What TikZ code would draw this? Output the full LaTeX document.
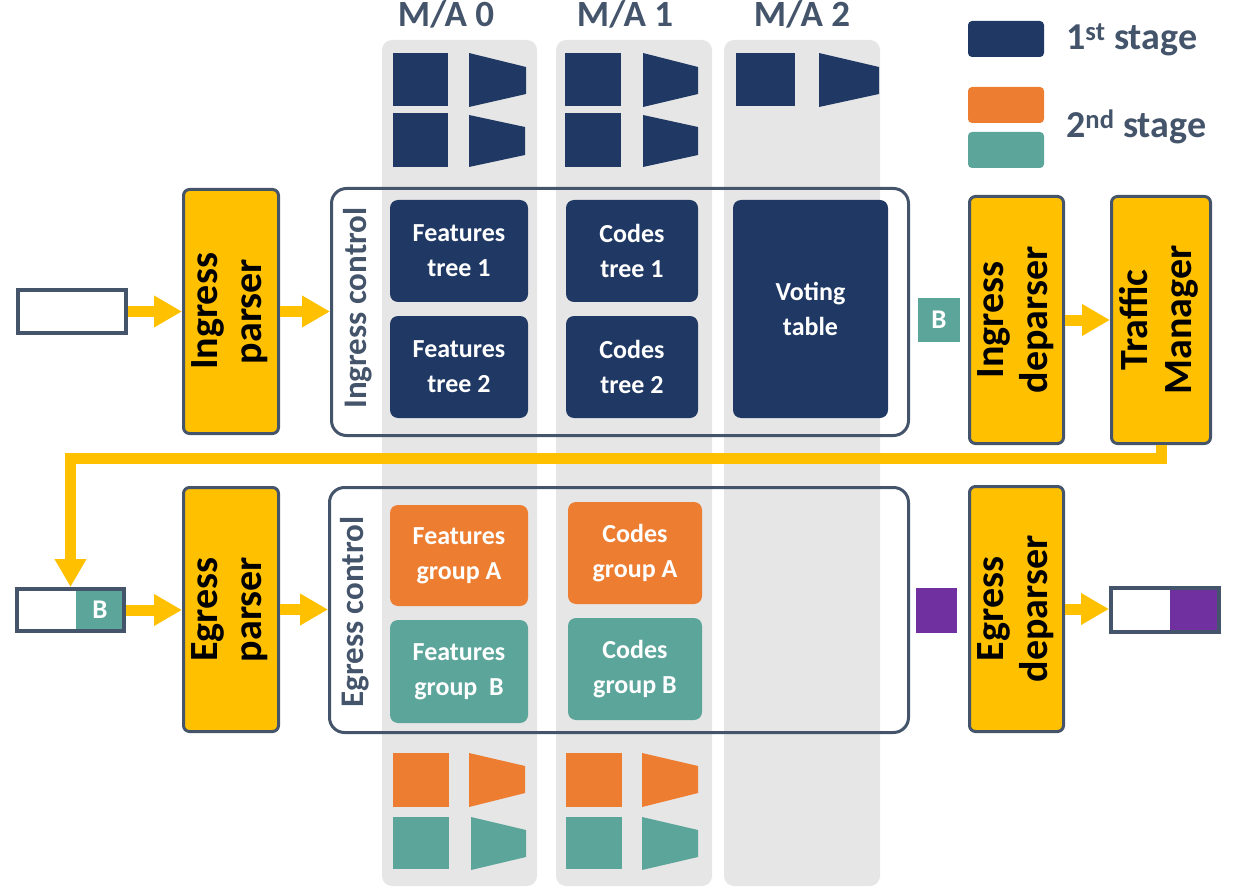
\documentclass[tikz,border=0pt]{standalone}
\usepackage{fontspec}
\usepackage{graphicx}
\setmainfont{Carlito}
\usetikzlibrary{arrows.meta,calc}
\definecolor{navy}{HTML}{1F3864}
\definecolor{orng}{HTML}{ED7D31}
\definecolor{tealc}{HTML}{5BA59B}
\definecolor{yel}{HTML}{FFC000}
\definecolor{colg}{HTML}{E7E6E6}
\definecolor{slate}{HTML}{44546A}
\definecolor{purp}{HTML}{7030A0}
\newcommand{\vtxt}[1]{\rotatebox{90}{\begin{tabular}{@{}c@{}}#1\end{tabular}}}
\begin{document}
\begin{tikzpicture}[x=1pt,y=-1pt,
  yelbox/.style={draw=slate, line width=3pt, fill=yel, rounded corners=6pt, inner sep=0pt, text=black,
    font=\fontsize{40}{44}\selectfont\bfseries},
  ctrlbox/.style={draw=slate, line width=3pt, rounded corners=15pt, inner sep=0pt},
  tbl/.style={rounded corners=8pt, inner sep=0pt, text=white, align=center,
    font=\fontsize{26}{35}\selectfont\bfseries},
  pkt/.style={draw=slate, line width=4pt, inner sep=0pt},
  tag/.style={inner sep=0pt, text=white, font=\fontsize{27}{30}\selectfont\bfseries},
  yarrow/.style={draw=yel, line width=11pt, -{Triangle[length=28pt,width=30pt]}},
  malbl/.style={anchor=base, inner sep=0pt, text=slate, font=\fontsize{37}{40}\selectfont\bfseries},
  legtxt/.style={anchor=base west, inner sep=0pt, text=slate, font=\fontsize{38}{40}\selectfont\bfseries},
  ctltxt/.style={rotate=90, inner sep=0pt, text=slate, font=\fontsize{33}{36}\selectfont\bfseries}
]
\useasboundingbox (0,0) rectangle (1235,896);
% columns
\fill[colg, rounded corners=10pt] (382,40) rectangle (537,886);
\fill[colg, rounded corners=10pt] (556,40) rectangle (712,886);
\fill[colg, rounded corners=10pt] (724,40) rectangle (880,886);
% top icons
\fill[navy] (393,53) rectangle (448,106);
\fill[navy] (393,113) rectangle (448,167);
\fill[navy] (469,53) -- (526,67) -- (526,94) -- (469,107) -- cycle;
\fill[navy] (469,115) -- (525,127) -- (525,155) -- (469,167) -- cycle;
\fill[navy] (565,53) rectangle (621,106);
\fill[navy] (565,113) rectangle (621,167);
\fill[navy] (643,53) -- (698,67) -- (698,94) -- (643,107) -- cycle;
\fill[navy] (643,115) -- (698,127) -- (698,155) -- (643,167) -- cycle;
\fill[navy] (736,53) rectangle (795,106);
\fill[navy] (819,53) -- (879,67) -- (879,94) -- (819,107) -- cycle;
% bottom icons
\fill[orng] (393,753) rectangle (449,807);
\fill[tealc] (393,817) rectangle (449,869);
\fill[orng] (469,753) -- (525,766) -- (525,793) -- (469,807) -- cycle;
\fill[tealc] (471,817) -- (526,830) -- (526,857) -- (471,870) -- cycle;
\fill[orng] (566,753) rectangle (622,807);
\fill[tealc] (566,817) rectangle (622,869);
\fill[orng] (642,753) -- (698,766) -- (698,793) -- (642,807) -- cycle;
\fill[tealc] (642,817) -- (698,830) -- (698,857) -- (642,870) -- cycle;
% M/A labels
\node[malbl] (ma0) at (446,27) {M/A 0};
\node[malbl] (ma1) at (625,27) {M/A 1};
\node[malbl] (ma2) at (802,27) {M/A 2};
% legend
\fill[navy, rounded corners=4pt] (968,21) rectangle (1044,57);
\fill[orng, rounded corners=4pt] (968,87) rectangle (1044,123);
\fill[tealc, rounded corners=4pt] (968,132) rectangle (1044,168);
\node[legtxt] (leg1) at (1066,50) {1\textsuperscript{st} stage};
\node[legtxt] (leg2) at (1066,138) {2\textsuperscript{nd} stage};
% control boxes
\node[ctrlbox, minimum width=577pt, minimum height=247pt] (ictrl) at (620,312) {};
\node[ctrlbox, minimum width=579pt, minimum height=245pt] (ectrl) at (619,610) {};
\node[ctltxt] (ictltxt) at (358,308) {Ingress control};
\node[ctltxt] (ectltxt) at (355,612) {Egress control};
% tables
\node[tbl, fill=navy, minimum width=138pt, minimum height=102pt] (ft1) at (459,251) {Features\\tree 1};
\node[tbl, fill=navy, minimum width=138pt, minimum height=102pt] (ft2) at (459,367) {Features\\tree 2};
\node[tbl, fill=navy, minimum width=132pt, minimum height=102pt] (ct1) at (632,251) {Codes\\tree 1};
\node[tbl, fill=navy, minimum width=132pt, minimum height=102pt] (ct2) at (632,367) {Codes\\tree 2};
\node[tbl, fill=navy, minimum width=155pt, minimum height=218pt] (vt) at (810.5,309) {Voting\\table};
\node[tbl, fill=orng, minimum width=138pt, minimum height=101pt] (fga) at (459,555.5) {Features\\group A};
\node[tbl, fill=tealc, minimum width=138pt, minimum height=103pt] (fgb) at (459,671.5) {Features\\group~~B};
\node[tbl, fill=orng, minimum width=134pt, minimum height=102pt] (cga) at (635,553) {Codes\\group A};
\node[tbl, fill=tealc, minimum width=134pt, minimum height=102pt] (cgb) at (635,669) {Codes\\group B};
% yellow boxes
\node[yelbox, minimum width=95pt, minimum height=244pt] (iparser) at (231,311.5) {\vtxt{Ingress\\parser}};
\node[yelbox, minimum width=95pt, minimum height=244pt] (eparser) at (231,609.5) {\vtxt{Egress\\parser}};
\node[yelbox, minimum width=94pt, minimum height=247pt] (idep) at (1016.5,320) {\vtxt{Ingress\\deparser}};
\node[yelbox, minimum width=99pt, minimum height=247pt] (tm) at (1161,320) {\vtxt{Traffic\\Manager}};
\node[yelbox, minimum width=94pt, minimum height=245pt] (edep) at (1016.5,609) {\vtxt{Egress\\deparser}};
% tags
\node[tag, fill=tealc, minimum width=42pt, minimum height=44pt] (btag) at (939,320) {B};
\node[tag, fill=purp, minimum width=41pt, minimum height=45pt] (ptag) at (936.5,610) {};
% packets
\node[pkt, minimum width=108pt, minimum height=43pt] (inpkt) at (72,311.5) {};
\node[tag, fill=tealc, minimum width=48pt, minimum height=42pt] (eb) at (100,610) {B};
\node[pkt, minimum width=107pt, minimum height=42pt] (epkt) at (70.5,610) {};
\node[tag, fill=purp, minimum width=49pt, minimum height=44pt] (op) at (1194.5,610) {};
\node[pkt, minimum width=108pt, minimum height=44pt] (outpkt) at (1165,610) {};
% arrows
\draw[yarrow] (inpkt.east) -- (inpkt.east -| iparser.west);
\draw[yarrow] (iparser.east) -- (iparser.east -| ictrl.west);
\draw[yarrow] (idep.east) -- (tm.west);
\draw[yarrow] (tm.south) -- (tm.south |- 0,458) -| (epkt.north);
\draw[yarrow] (epkt.east) -- (epkt.east -| eparser.west);
\draw[yarrow] (eparser.east) -- (eparser.east -| ectrl.west);
\draw[yarrow] (edep.east) -- (edep.east -| outpkt.west);
\end{tikzpicture}
\end{document}
